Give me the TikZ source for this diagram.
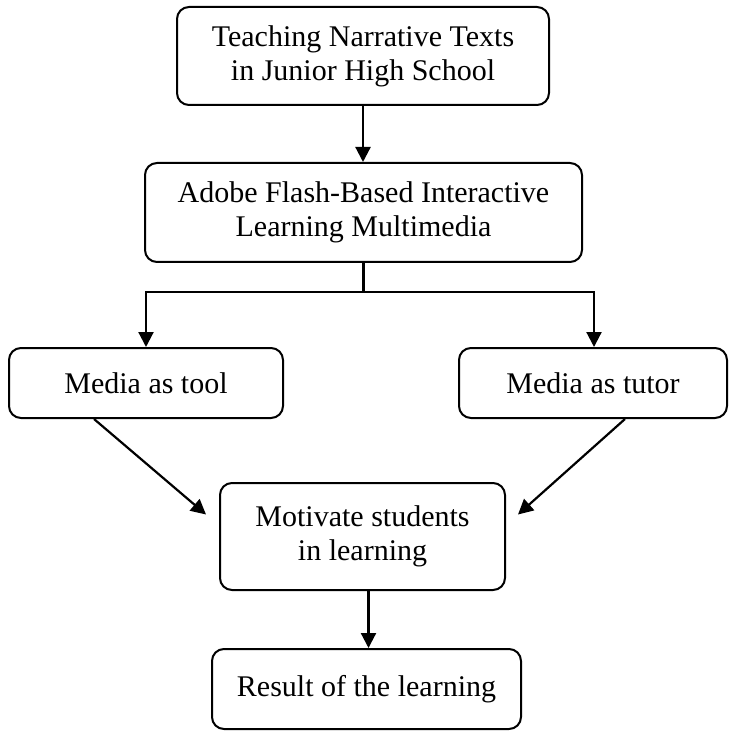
\documentclass[tikz,border=0pt]{standalone}
\usepackage{fontspec}
\setmainfont{Liberation Serif}
\usetikzlibrary{arrows.meta}
\tikzset{
  stage/.style={draw, line width=1pt, rounded corners=6pt, align=center, inner sep=0pt,
    font=\fontsize{15}{17}\selectfont},
  arr/.style={line width=1.1pt, -{Triangle[length=7.5pt,width=7.5pt]}}
}
\begin{document}
\begin{tikzpicture}[x=0.5pt, y=-0.5pt]
        \useasboundingbox (0, 0) rectangle (728, 731);
        \node[stage, minimum width=186pt, minimum height=49pt] (teach) at (363, 56) {Teaching Narrative Texts\\in Junior High School};
        \node[stage, minimum width=218.5pt, minimum height=49.5pt] (flash) at (363.5, 212.5) {Adobe Flash-Based Interactive\\Learning Multimedia};
        \node[stage, minimum width=137pt, minimum height=35pt] (tool) at (146, 383) {Media as tool};
        \node[stage, minimum width=134pt, minimum height=35pt] (tutor) at (593, 383) {Media as tutor};
        \node[stage, minimum width=142.5pt, minimum height=53.5pt] (motiv) at (362.5, 536.5) {Motivate students\\in learning};
        \node[stage, minimum width=154.5pt, minimum height=40pt] (result) at (366.5, 689) {Result of the learning};
        \draw[arr] (teach.south) -- (teach.south |- flash.north);
        \draw[line width=1.1pt] (flash.south) -- ++(0, 29) coordinate (split);
        \draw[arr] (split) -| (tool.north);
        \draw[arr] (split) -| ([xshift=0.5pt]tutor.north);
        \draw[arr] ([xshift=-26pt]tool.south) -- ([xshift=-6.5pt, yshift=11pt]motiv.west);
        \draw[arr] ([xshift=16pt]tutor.south) -- ([xshift=6pt, yshift=11pt]motiv.east);
        \draw[arr] ([xshift=3pt]motiv.south) -- ([xshift=3pt]motiv.south |- result.north);
  \end{tikzpicture}
\end{document}
